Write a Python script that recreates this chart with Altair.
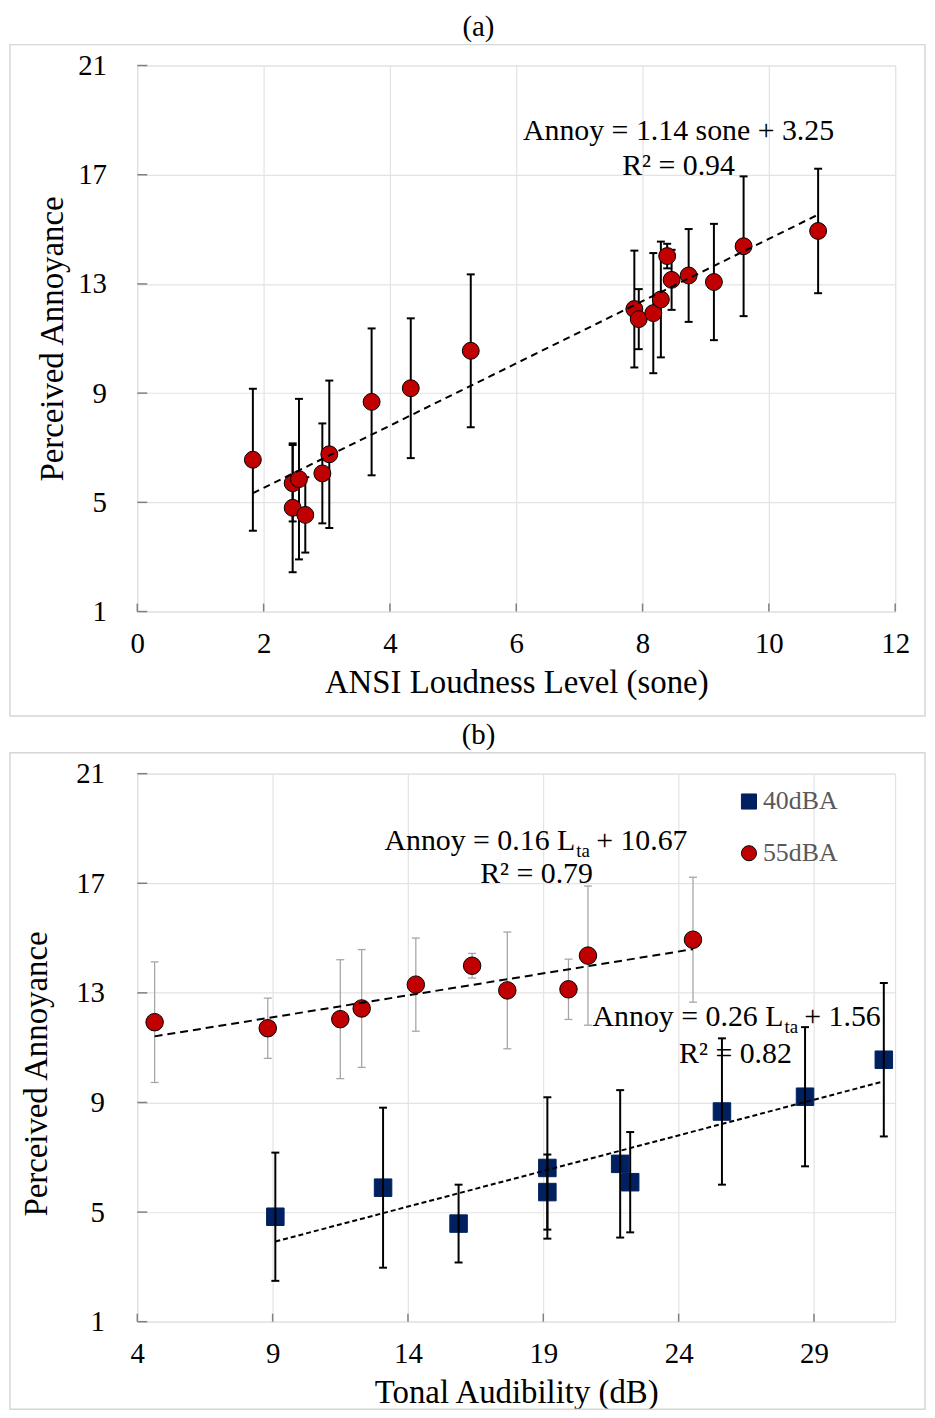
import altair as alt
import pandas as pd

# ---------------- data: panel (a) ----------------
sone = [1.83, 2.46, 2.46, 2.56, 2.66, 2.93, 3.04, 3.71, 4.33, 5.28,
        7.87, 7.94, 8.17, 8.29, 8.39, 8.46, 8.73, 9.13, 9.60, 10.78]
annoy_a = [6.56, 5.70, 4.80, 5.85, 4.54, 6.06, 6.76, 8.68, 9.18, 10.55,
           12.08, 11.71, 11.93, 12.43, 14.02, 13.15, 13.31, 13.07, 14.38, 14.94]
err_a = [2.60, 1.40, 2.36, 2.94, 1.38, 1.83, 2.70, 2.69, 2.56, 2.80,
         2.14, 1.10, 2.20, 2.12, 0.45, 1.10, 1.70, 2.13, 2.56, 2.28]

# ---------------- data: panel (b) ----------------
series_names = ["40dBA", "55dBA"]
lta_40 = [9.10, 13.08, 15.87, 19.15, 19.15, 21.84, 22.21, 25.60, 28.67, 31.58]
annoy_40 = [4.83, 5.89, 4.58, 6.61, 5.73, 6.76, 6.09, 8.67, 9.21, 10.56]
err_40 = [2.34, 2.92, 1.42, 2.58, 1.37, 2.69, 1.83, 2.67, 2.54, 2.80]
lta_55 = [4.64, 8.82, 11.50, 12.29, 14.29, 16.37, 17.67, 19.93, 20.65, 24.53]
annoy_55 = [11.93, 11.71, 12.04, 12.43, 13.30, 13.99, 13.09, 13.13, 14.36, 14.94]
err_55 = [2.20, 1.10, 2.17, 2.15, 1.70, 0.45, 2.13, 1.10, 2.54, 2.28]

# regression equations printed on the chart (slope, intercept)
fit_a = [1.14, 3.25]
fit_40 = [0.26, 1.56]
fit_55 = [0.16, 10.67]

xticks_a = [0, 2, 4, 6, 8, 10, 12]
xticks_b = [4, 9, 14, 19, 24, 29]
yticks = [1, 5, 9, 13, 17, 21]

# ---------------- style ----------------
FONT = "Liberation Serif"
FRAME = "#808080"
GRID = "#e3e3e3"
BOX = "#d6d6d6"
RED = "#c00000"
NAVY = "#002060"
W = 762
H_A = 549
H_B = 551


def frame_df(x, y, e, extra=None):
    d = pd.DataFrame({"x": x, "y": y,
                      "lo": [a - b for a, b in zip(y, e)],
                      "hi": [a + b for a, b in zip(y, e)]})
    if extra is not None:
        d["series"] = extra
    return d


def x_axis(vals, title):
    return alt.Axis(values=vals, title=title, grid=True, gridColor=GRID, gridWidth=1.2,
                    domain=False, ticks=False, labelFont=FONT, labelFontSize=29,
                    labelColor="black", labelPadding=18, labelFlush=False, labelOverlap=False,
                    titleFont=FONT, titleFontSize=33, titleFontWeight="normal",
                    titleColor="black", titlePadding=8, format="d")


def y_axis(lp, tp, ty):
    return alt.Axis(values=yticks, title="Perceived Annoyance", grid=True, gridColor=GRID,
                    gridWidth=1.2, domain=False, ticks=False, labelFont=FONT, labelFontSize=29,
                    labelColor="black", labelPadding=lp, labelOverlap=False,
                    titleFont=FONT, titleFontSize=33, titleFontWeight="normal",
                    titleColor="black", titlePadding=tp, titleY=ty, format="d")


ys = alt.Scale(domain=[1, 21], nice=False, zero=False)


def text_layer(txt, xv, yv, size=30, align="center", dx=0, dy=0, color="black"):
    return alt.Chart(pd.DataFrame({"t": [txt]})).mark_text(
        font=FONT, fontSize=size, align=align, baseline="alphabetic", color=color, dx=dx, dy=dy
    ).encode(x=alt.datum(xv), y=alt.datum(yv), text="t:N")


def box_layer(h, top, bottom):
    return alt.Chart(pd.DataFrame({"k": [0]})).mark_rect(
        fill="transparent", stroke=BOX, strokeWidth=1.5
    ).encode(x=alt.value(-128), x2=alt.value(W + 30), y=alt.value(-top), y2=alt.value(h + bottom))


def tick_layers(xvals, X, Y, h):
    tx = alt.Chart(pd.DataFrame({"x": xvals})).mark_rule(color=FRAME, strokeWidth=1.5).encode(
        x=X, y=alt.value(h), y2=alt.value(h - 8))
    ty = alt.Chart(pd.DataFrame({"y": yticks})).mark_rule(color=FRAME, strokeWidth=1.5).encode(
        y=Y("y"), x=alt.value(0), x2=alt.value(10))
    return [tx, ty]


def err_layers(df, X, Y, color, width):
    rule = alt.Chart(df).mark_rule(color=color, strokeWidth=width).encode(
        x=X, y=Y("lo"), y2=alt.Y2("hi:Q"))
    lo = alt.Chart(df).mark_tick(color=color, orient="horizontal", size=8, thickness=width,
                                 opacity=1).encode(x=X, y=Y("lo"))
    hi = alt.Chart(df).mark_tick(color=color, orient="horizontal", size=8, thickness=width,
                                 opacity=1).encode(x=X, y=Y("hi"))
    return [rule, lo, hi]


def trend_layer(xs, fit, X, Y, dash):
    d = pd.DataFrame({"x": [min(xs), max(xs)]})
    return alt.Chart(d).transform_calculate(
        y=f"{fit[0]} * datum.x + {fit[1]}"
    ).mark_line(color="black", strokeWidth=2, strokeDash=dash).encode(x=X, y=Y("y"))


# ---------------- panel (a) ----------------
XA = alt.X("x:Q", scale=alt.Scale(domain=[0, 12], nice=False, zero=False),
           axis=x_axis(xticks_a, "ANSI Loudness Level (sone)"))
YA_axis = y_axis(31, 8, H_A / 2)


def YA(f):
    return alt.Y(f"{f}:Q", scale=ys, axis=YA_axis)


df_a = frame_df(sone, annoy_a, err_a)
pts_a = alt.Chart(df_a).mark_point(filled=True, fill=RED, stroke="black", strokeWidth=1,
                                   size=289, opacity=1, shape="circle").encode(x=XA, y=YA("y"))

panel_a = alt.layer(
    box_layer(H_A, 21, 105),
    *tick_layers(xticks_a, XA, YA, H_A),
    *err_layers(df_a, XA, YA, "black", 2),
    pts_a,
    trend_layer(sone, fit_a, XA, YA, [7, 5]),
    text_layer("Annoy = 1.14 sone + 3.25", 8.57, 18.26),
    text_layer("R² = 0.94", 8.57, 17.0),
).properties(width=W, height=H_A,
             title=alt.Title("(a)", font=FONT, fontSize=29, fontWeight="normal", color="black",
                             anchor="middle", frame="bounds", offset=2, dx=11))

# ---------------- panel (b) ----------------
XB = alt.X("x:Q", scale=alt.Scale(domain=[4, 32], nice=False, zero=False),
           axis=x_axis(xticks_b, "Tonal Audibility (dB)"))
YB_axis = y_axis(33, 22, H_B / 2 + 26)


def YB(f):
    return alt.Y(f"{f}:Q", scale=ys, axis=YB_axis)


df_40 = frame_df(lta_40, annoy_40, err_40, [series_names[0]] * len(lta_40))
df_55 = frame_df(lta_55, annoy_55, err_55, [series_names[1]] * len(lta_55))
df_b = pd.concat([df_40, df_55], ignore_index=True)

# the shared legend is placed relative to the first panel's plot origin
LEG = alt.Legend(title=None, orient="none", legendX=602, legendY=727, labelFont=FONT,
                 labelFontSize=26, labelColor="#595959", symbolSize=230, symbolStrokeWidth=1,
                 rowPadding=26, labelOffset=1, padding=0, symbolOpacity=1)

pts_b = alt.Chart(df_b).mark_point(filled=True, size=310, strokeWidth=1, opacity=1).encode(
    x=XB, y=YB("y"),
    shape=alt.Shape("series:N", scale=alt.Scale(domain=series_names, range=["square", "circle"]), legend=LEG),
    fill=alt.Fill("series:N", scale=alt.Scale(domain=series_names, range=[NAVY, RED]), legend=LEG),
    stroke=alt.Stroke("series:N", scale=alt.Scale(domain=series_names, range=[NAVY, "black"]), legend=LEG),
)

panel_b = alt.layer(
    box_layer(H_B, 21, 88),
    *tick_layers(xticks_b, XB, YB, H_B),
    text_layer("Annoy = 0.16 L", 20.18, 18.2, align="right"),
    text_layer("ta", 20.18, 18.2, size=19, align="left", dx=1, dy=7),
    text_layer("+ 10.67", 20.18, 18.2, align="left", dx=21),
    text_layer("R² = 0.79", 18.75, 17.0),
    text_layer("Annoy = 0.26 L", 27.87, 11.79, align="right"),
    text_layer("ta", 27.87, 11.79, size=19, align="left", dx=1, dy=7),
    text_layer("+ 1.56", 27.87, 11.79, align="left", dx=21),
    text_layer("R² = 0.82", 26.1, 10.44),
    *err_layers(df_55, XB, YB, "#a6a6a6", 1.3),
    pts_b,
    *err_layers(df_40, XB, YB, "black", 2),
    trend_layer(lta_55, fit_55, XB, YB, [8, 5]),
    trend_layer(lta_40, fit_40, XB, YB, [5, 3]),
).properties(width=W, height=H_B,
             title=alt.Title("(b)", font=FONT, fontSize=29, fontWeight="normal", color="black",
                             anchor="middle", frame="bounds", offset=2, dx=11))

chart = alt.vconcat(panel_a, panel_b, spacing=2).properties(padding=0).configure_view(
    stroke=FRAME, strokeWidth=1.5
).configure(font=FONT)

chart.save("out.html", embed_options={"renderer": "svg", "actions": False})
